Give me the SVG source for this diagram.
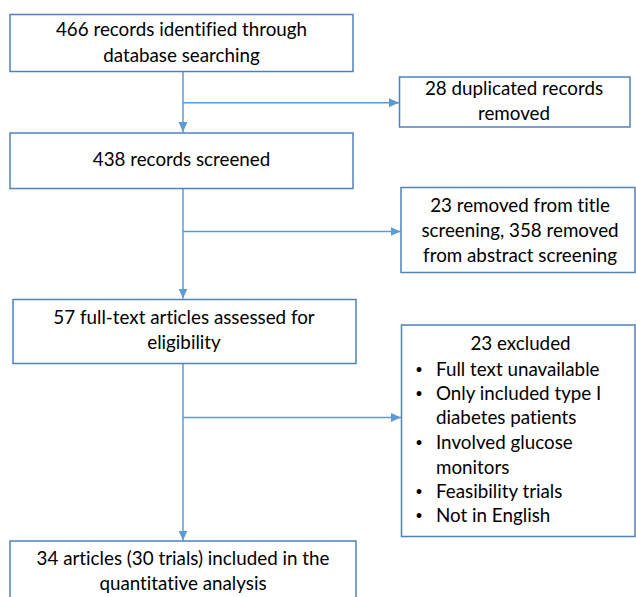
<svg xmlns="http://www.w3.org/2000/svg" width="636" height="597" viewBox="0 0 636 597">
<defs>
<style>
.box{fill:#ffffff;stroke:#4f81bd;stroke-width:1.5}
.con{fill:none;stroke:#5b9bd5;stroke-width:1.5}
text{font-family:Lato,"Liberation Sans",sans-serif;font-size:18.8px;fill:#000000;font-variant-ligatures:none}
.c{text-anchor:middle}
.b{text-anchor:middle;font-size:13px}
</style>
<marker id="arr" markerUnits="userSpaceOnUse" markerWidth="10" markerHeight="10" viewBox="0 0 10 10" refX="10" refY="5" orient="auto">
<path d="M0,0.5 L10,5 L0,9.5 Z" fill="#5b9bd5"/>
</marker>
</defs>
<rect width="636" height="597" fill="#ffffff"/>
<g id="connectors">
<path class="con" d="M183,71.5 V132" marker-end="url(#arr)"/>
<path class="con" d="M183,102.7 H399" marker-end="url(#arr)"/>
<path class="con" d="M183,188.5 V298.5" marker-end="url(#arr)"/>
<path class="con" d="M183,231.5 H400.5" marker-end="url(#arr)"/>
<path class="con" d="M183,364 V540.5" marker-end="url(#arr)"/>
<path class="con" d="M183,417.5 H401" marker-end="url(#arr)"/>
</g>
<g id="n1">
<rect class="box" x="10" y="14.5" width="343" height="57"/>
<text class="c" x="181.5" y="36">466 records identified through</text>
<text class="c" x="181.5" y="61.5">database searching</text>
</g>
<g id="n2">
<rect class="box" x="399.5" y="77" width="230.5" height="50"/>
<text class="c" x="514" y="95">28 duplicated records</text>
<text class="c" x="514" y="120">removed</text>
</g>
<g id="n3">
<rect class="box" x="10" y="133" width="343" height="55.5"/>
<text class="c" x="181.5" y="165.5">438 records screened</text>
</g>
<g id="n4">
<rect class="box" x="401" y="187.5" width="234" height="85"/>
<text class="c" x="520" y="211.5">23 removed from title</text>
<text class="c" x="520" y="237">screening, 358 removed</text>
<text class="c" x="520" y="261.5">from abstract screening</text>
</g>
<g id="n5">
<rect class="box" x="13" y="299.5" width="343" height="64"/>
<text class="c" x="184" y="324">57 full-text articles assessed for</text>
<text class="c" x="184" y="349.3">eligibility</text>
</g>
<g id="n6">
<rect class="box" x="401.5" y="325" width="233.5" height="211.5"/>
<text class="c" x="520.5" y="350">23 excluded</text>
<text class="b" x="419" y="373.5">•</text><text x="436" y="375.7">Full text unavailable</text>
<text class="b" x="419" y="398">•</text><text x="436" y="400">Only included type I</text>
<text x="436" y="424">diabetes patients</text>
<text class="b" x="419" y="447">•</text><text x="436" y="449">Involved glucose</text>
<text x="436" y="473.5">monitors</text>
<text class="b" x="419" y="496">•</text><text x="436" y="498">Feasibility trials</text>
<text class="b" x="419" y="520">•</text><text x="436" y="522">Not in English</text>
</g>
<g id="n7">
<rect class="box" x="10" y="541" width="346" height="70"/>
<text class="c" x="183" y="565">34 articles (30 trials) included in the</text>
<text class="c" x="183" y="590">quantitative analysis</text>
</g>
</svg>
